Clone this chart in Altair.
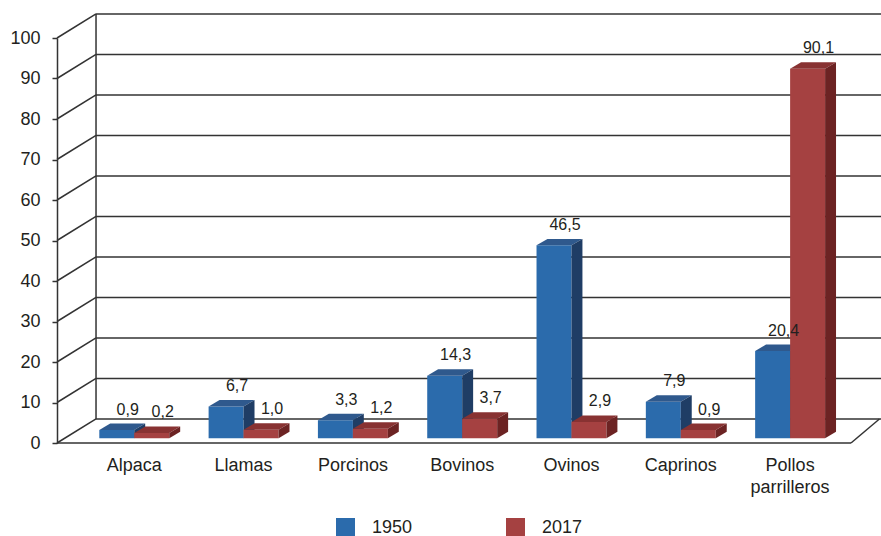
import altair as alt
import pandas as pd

# ---- data -------------------------------------------------------------
categories = ["Alpaca", "Llamas", "Porcinos", "Bovinos", "Ovinos", "Caprinos",
              "Pollos parrilleros"]
values_1950 = [0.9, 6.7, 3.3, 14.3, 46.5, 7.9, 20.4]
values_2017 = [0.2, 1.0, 1.2, 3.7, 2.9, 0.9, 90.1]
series_names = ["1950", "2017"]
y_ticks = list(range(0, 101, 10))

# ---- styling ----------------------------------------------------------
FONT = "Liberation Sans"
LINE = "#333333"
TEXT = "#231f20"
# (front, top, side) shades per series
SHADES = {
    "1950": ("#2b6bac", "#2f598d", "#1f3d65"),
    "2017": ("#a54141", "#883232", "#6c2323"),
}

# pseudo-3D geometry in axis units (x: category slots, y: value units)
X_MIN, X_MAX = -0.707, 6.557
BAR_W = 0.32
BAR_DX, BAR_DY = 0.1, 1.6
BAR_LIFT, BAR_BASE = 2.3, 1.2
WALL_DX, WALL_DY = 0.357, 5.93
RIGHT_DX = 0.26

xs = alt.Scale(domain=[X_MIN, X_MAX], nice=False, zero=False)
ys = alt.Scale(domain=[0, 100], nice=False, zero=False)
y_axis = alt.Axis(values=y_ticks, title=None, grid=False, tickSize=5,
                  tickWidth=1.5, tickColor=LINE, domainColor=LINE,
                  domainWidth=1.5, labelFontSize=18, labelFont=FONT,
                  labelColor=TEXT, labelPadding=12)


def X(field, **kw):
    return alt.X(field, type="quantitative", scale=xs, axis=None, **kw)


def Y(field, **kw):
    return alt.Y(field, type="quantitative", scale=ys, axis=y_axis, **kw)


# ---- frame: floor, back wall and its grid ------------------------------
frame_rows = []
for v in y_ticks:
    # horizontal line on the back wall
    frame_rows.append(dict(x=X_MIN + WALL_DX, x2=X_MAX + 0.5,
                           y=v + WALL_DY, y2=v + WALL_DY))
    # receding line from the front axis to the back wall
    frame_rows.append(dict(x=X_MIN, x2=X_MIN + WALL_DX, y=v, y2=v + WALL_DY))
frame_rows.append(dict(x=X_MIN + WALL_DX, x2=X_MIN + WALL_DX,
                       y=WALL_DY, y2=100 + WALL_DY))
frame_rows.append(dict(x=X_MIN, x2=X_MAX, y=0, y2=0))
frame_rows.append(dict(x=X_MAX, x2=X_MAX + RIGHT_DX, y=0, y2=WALL_DY))
frame = pd.DataFrame(frame_rows)

frame_layer = alt.Chart(frame).mark_rule(color=LINE, strokeWidth=1.5).encode(
    x=X("x"), x2="x2", y=Y("y"), y2="y2")

# ---- bars -------------------------------------------------------------
bar_rows = []
for s_idx, (name, vals) in enumerate(zip(series_names, [values_1950, values_2017])):
    for i, (cat, v) in enumerate(zip(categories, vals)):
        left = i - BAR_W if s_idx == 0 else i
        bar_rows.append(dict(key=f"{name}-{i}", series=name, cat=cat, value=v,
                             left=left, right=left + BAR_W,
                             base=BAR_BASE, top=BAR_LIFT + v))
bars = pd.DataFrame(bar_rows)

color_scale = alt.Scale(domain=series_names,
                        range=[SHADES[s][0] for s in series_names])
legend = alt.Legend(orient="none", legendX=279, legendY=480,
                    direction="horizontal", title=None, symbolType="square",
                    symbolSize=361, symbolStrokeWidth=0, labelFontSize=18,
                    labelFont=FONT, labelColor=TEXT, labelOffset=17,
                    columnPadding=93, padding=0)


def bar_layers(name):
    front_c, top_c, side_c = SHADES[name]
    b = bars[bars.series == name]

    top_rows, side_rows = [], []
    for r in b.itertuples():
        top_rows.append(dict(key=r.key, y=r.top, xa=r.left, xb=r.right))
        top_rows.append(dict(key=r.key, y=r.top + BAR_DY,
                             xa=r.left + BAR_DX, xb=r.right + BAR_DX))
        side_rows.append(dict(key=r.key, x=r.right, ya=r.base, yb=r.top))
        side_rows.append(dict(key=r.key, x=r.right + BAR_DX,
                              ya=r.base + BAR_DY, yb=r.top + BAR_DY))

    front = alt.Chart(b).mark_rect().encode(
        x=X("left"), x2="right", y=Y("base"), y2="top",
        color=alt.Color("series:N", scale=color_scale, legend=legend))
    top = alt.Chart(pd.DataFrame(top_rows)).mark_area(
        orient="horizontal", color=top_c, opacity=1).encode(
        y=Y("y"), x=X("xa", stack=None), x2="xb", detail="key:N")
    side = alt.Chart(pd.DataFrame(side_rows)).mark_area(
        color=side_c, opacity=1).encode(
        x=X("x"), y=Y("ya", stack=None), y2="yb", detail="key:N")
    return [front, top, side]


# value labels above each bar, centred on its back face
labels = alt.Chart(bars).transform_calculate(
    lx=f"(datum.left + datum.right) / 2 + {BAR_DX}",
    ly=f"datum.top + {BAR_DY}",
    txt="replace(format(datum.value, '.1f'), '.', ',')",
).mark_text(font=FONT, fontSize=16, color=TEXT, dy=-9,
            baseline="alphabetic").encode(x=X("lx"), y=Y("ly"), text="txt:N")

# category names under the floor
cat_df = pd.DataFrame({"cat": categories, "pos": list(range(len(categories))),
                       "zero": [0] * len(categories)})
cat_labels = alt.Chart(cat_df).mark_text(
    font=FONT, fontSize=18, color=TEXT, dy=28, baseline="alphabetic",
    lineBreak=" ", lineHeight=22).encode(x=X("pos"), y=Y("zero"), text="cat:N")

chart = alt.layer(
    frame_layer, *bar_layers("1950"), *bar_layers("2017"), labels, cat_labels
).properties(
    width=794, height=405,
    autosize=alt.AutoSizeParams(type="none"),
    padding={"left": 57, "top": 38, "right": 30, "bottom": 93},
    background="white",
).configure(font=FONT).configure_view(stroke=None, strokeWidth=0)

chart.save("out.html", embed_options={"renderer": "svg", "actions": False})
